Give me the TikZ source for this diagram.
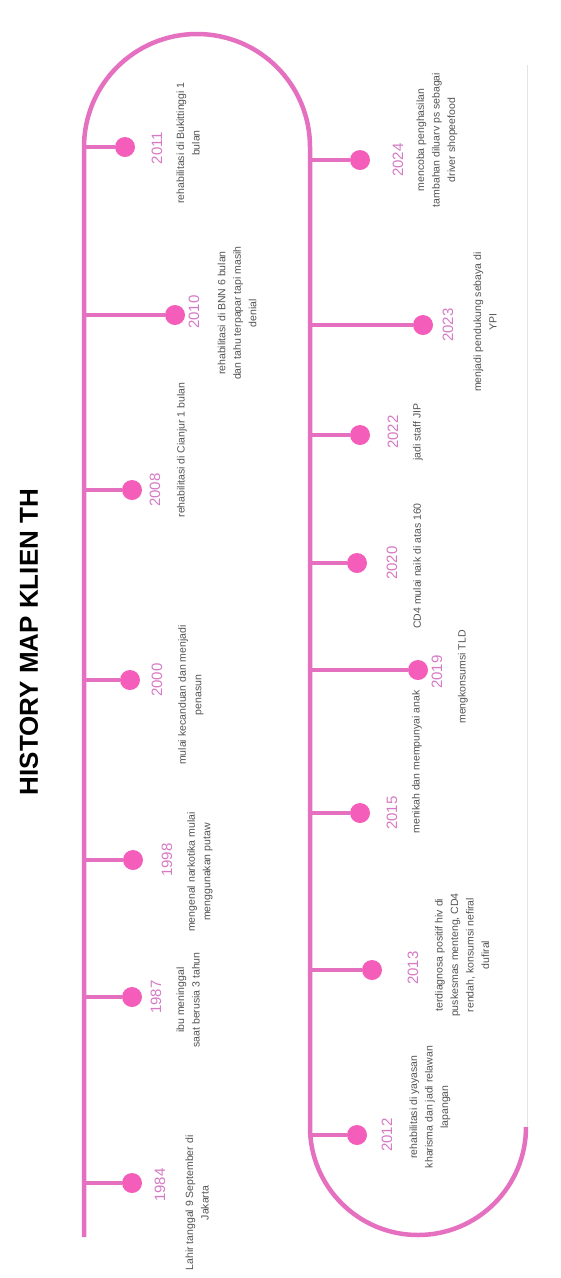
\documentclass[tikz,border=0pt]{standalone}
\usepackage{fontspec}
\setmainfont{Liberation Sans}
\definecolor{linepink}{RGB}{230,112,192}
\definecolor{dotpink}{RGB}{244,94,186}
\definecolor{yearpink}{RGB}{214,122,196}
\definecolor{textgray}{RGB}{84,84,84}
\definecolor{faintgray}{RGB}{228,228,228}
\tikzset{
  tl/.style={draw=linepink, line width=4.5pt},
  branch/.style={draw=linepink, line width=4.5pt},
  evdot/.style={circle, fill=dotpink, inner sep=0pt, minimum size=20pt},
  yr/.style={rotate=90, text=yearpink, inner sep=0pt, font=\fontsize{15}{15}\selectfont},
  desc/.style={rotate=90, text=textgray, inner sep=0pt, align=center, font=\fontsize{10.5}{15.5}\selectfont},
  ttl/.style={rotate=90, text=black, inner sep=0pt, font=\fontsize{26}{26}\selectfont\bfseries},
  faint/.style={draw=faintgray, line width=1pt}
}
\begin{document}
\begin{tikzpicture}[x=1pt,y=-1pt]
\useasboundingbox (0,0) rectangle (560,1278);
\fill[white] (0,0) rectangle (560,1278);
\node[ttl] (title) at (29,642) {HISTORY MAP KLIEN TH};
% faint third row
\draw[faint] (527,1127) -- (527,65);
% main timeline
\draw[tl] (84,1237) -- (84,147) arc[start angle=180, end angle=360, radius=113] -- (310,1127) arc[start angle=180, end angle=0, x radius=108, y radius=108];
% ---------- left row ----------
\coordinate (b1984) at (84,1183);
\node[evdot] (d1984) at (132,1183) {};
\draw[branch] (b1984) -- (d1984);
\node[yr] (y1984) at (160,1185) {1984};
\node[desc] (t1984) at (197,1203) {Lahir tanggal 9 September di\\Jakarta};

\coordinate (b1987) at (84,997);
\node[evdot] (d1987) at (132,997) {};
\draw[branch] (b1987) -- (d1987);
\node[yr] (y1987) at (156,997) {1987};
\node[desc] (t1987) at (188,1000) {ibu meninggal\\saat berusia 3 tahun};

\coordinate (b1998) at (84,860);
\node[evdot] (d1998) at (133,860) {};
\draw[branch] (b1998) -- (d1998);
\node[yr] (y1998) at (167,860) {1998};
\node[desc] (t1998) at (200,872) {mengenal narkotika mulai\\menggunakan putaw};

\coordinate (b2000) at (84,680);
\node[evdot] (d2000) at (130,680) {};
\draw[branch] (b2000) -- (d2000);
\node[yr] (y2000) at (157,680) {2000};
\node[desc] (t2000) at (191,695) {mulai kecanduan dan menjadi\\penasun};

\coordinate (b2008) at (84,490);
\node[evdot] (d2008) at (132,490) {};
\draw[branch] (b2008) -- (d2008);
\node[yr] (y2008) at (155,490) {2008};
\node[desc] (t2008) at (182,450) {rehabilitasi di Cianjur 1 bulan};

\coordinate (b2010) at (84,315);
\node[evdot] (d2010) at (175,315) {};
\draw[branch] (b2010) -- (d2010);
\node[yr] (y2010) at (194,312) {2010};
\node[desc] (t2010) at (237,313) {rehabilitasi di BNN 6 bulan\\dan tahu terpapar tapi masih\\denial};

\coordinate (b2011) at (84,147);
\node[evdot] (d2011) at (125,147) {};
\draw[branch] (b2011) -- (d2011);
\node[yr] (y2011) at (157,148) {2011};
\node[desc] (t2011) at (188,143) {rehabilitasi di Bukittinggi 1\\bulan};
% ---------- right row ----------
\coordinate (b2012) at (310,1135);
\node[evdot] (d2012) at (357,1135) {};
\draw[branch] (b2012) -- (d2012);
\node[yr] (y2012) at (387,1135) {2012};
\node[desc] (t2012) at (430,1107) {rehabilitasi di yayasan\\kharisma dan jadi relawan\\lapangan};

\coordinate (b2013) at (310,970);
\node[evdot] (d2013) at (372,970) {};
\draw[branch] (b2013) -- (d2013);
\node[yr] (y2013) at (413,968) {2013};
\node[desc] (t2013) at (462,955) {terdiagnosa positif hiv di\\puskesmas menteng, CD4\\rendah, konsumsi nefiral\\dufiral};

\coordinate (b2015) at (310,813);
\node[evdot] (d2015) at (360,813) {};
\draw[branch] (b2015) -- (d2015);
\node[yr] (y2015) at (392,813) {2015};
\node[desc] (t2015) at (417,762) {menikah dan mempunyai anak};

\coordinate (b2019) at (310,670);
\node[evdot] (d2019) at (418,670) {};
\draw[branch] (b2019) -- (d2019);
\node[yr] (y2019) at (437,672) {2019};
\node[desc] (t2019) at (463,677) {mengkonsumsi TLD};

\coordinate (b2020) at (310,563);
\node[evdot] (d2020) at (357,563) {};
\draw[branch] (b2020) -- (d2020);
\node[yr] (y2020) at (392,563) {2020};
\node[desc] (t2020) at (417,566) {CD4 mulai naik di atas 160};

\coordinate (b2022) at (310,435);
\node[evdot] (d2022) at (360,435) {};
\draw[branch] (b2022) -- (d2022);
\node[yr] (y2022) at (393,432) {2022};
\node[desc] (t2022) at (418,432) {jadi staff JIP};

\coordinate (b2023) at (310,325);
\node[evdot] (d2023) at (423,325) {};
\draw[branch] (b2023) -- (d2023);
\node[yr] (y2023) at (448,325) {2023};
\node[desc] (t2023) at (485,322) {menjadi pendukung sebaya di\\YPI};

\coordinate (b2024) at (310,160);
\node[evdot] (d2024) at (360,160) {};
\draw[branch] (b2024) -- (d2024);
\node[yr] (y2024) at (398,160) {2024};
\node[desc] (t2024) at (437,140) {mencoba penghasilan\\tambahan diluarv ps sebagai\\driver shopeefood};
\end{tikzpicture}
\end{document}
